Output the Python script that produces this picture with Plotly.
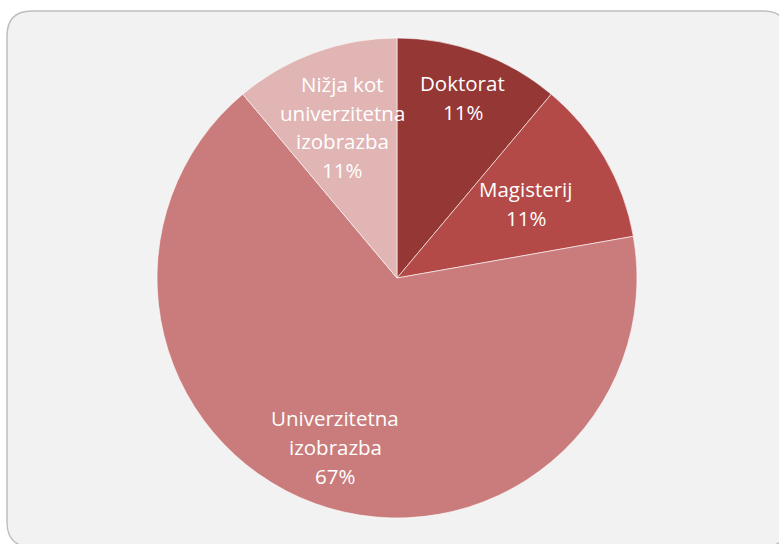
import math
import plotly.graph_objects as go

# Education level of respondents
categories = ["Doktorat", "Magisterij", "Univerzitetna izobrazba",
              "Nižja kot univerzitetna izobrazba"]
values = [1, 1, 6, 1]
label_lines = [["Doktorat"], ["Magisterij"], ["Univerzitetna", "izobrazba"],
               ["Nižja kot", "univerzitetna", "izobrazba"]]
colors = ["#953735", "#b44a48", "#c97c7b", "#e0b5b4"]
label_radius = [0.80, 0.62, 0.75, 0.67]  # label distance from centre, share of radius

W, H = 779, 544
CX, CY, R = 397, 278, 240
LINE_H = 28.7
FONT = dict(family="'Open Sans', sans-serif", size=20.5, color="white")


def px(x):
    return x / W


def py(y):
    return 1 - y / H


fig = go.Figure(go.Pie(
    labels=categories, values=values, sort=False, direction="clockwise",
    rotation=0, marker=dict(colors=colors, line=dict(color="white", width=0.6)),
    textinfo="none", hoverinfo="label+percent", showlegend=False,
    domain=dict(x=[px(CX - R), px(CX + R)], y=[py(CY + R), py(CY - R)]),
))

# Rounded chart-area frame
x0, y0, x1, y1, rr = 7, 11, 788, 547, 25
path = (f"M {px(x0 + rr)} {py(y0)} L {px(x1 - rr)} {py(y0)} "
        f"Q {px(x1)} {py(y0)} {px(x1)} {py(y0 + rr)} "
        f"L {px(x1)} {py(y1 - rr)} Q {px(x1)} {py(y1)} {px(x1 - rr)} {py(y1)} "
        f"L {px(x0 + rr)} {py(y1)} Q {px(x0)} {py(y1)} {px(x0)} {py(y1 - rr)} "
        f"L {px(x0)} {py(y0 + rr)} Q {px(x0)} {py(y0)} {px(x0 + rr)} {py(y0)} Z")
fig.add_shape(type="path", path=path, xref="paper", yref="paper",
              fillcolor="#f2f2f2", line=dict(color="#bfbfbf", width=1.5),
              layer="below")

# Data labels placed along each slice's mid-angle
total = sum(values)
start = 0.0
for v, lines, frac in zip(values, label_lines, label_radius):
    share = v / total
    mid = (start + share / 2) * 2 * math.pi
    start += share
    lx = CX + frac * R * math.sin(mid)
    ly = CY - frac * R * math.cos(mid)
    text_lines = lines + [f"{round(share * 100)}%"]
    n = len(text_lines)
    for i, t in enumerate(text_lines):
        yy = ly + (i - (n - 1) / 2) * LINE_H
        fig.add_annotation(x=px(lx), y=py(yy), xref="paper", yref="paper",
                           text=t, showarrow=False, font=FONT,
                           xanchor="center", yanchor="middle")

fig.update_layout(width=W, height=H, margin=dict(l=0, r=0, t=0, b=0),
                  paper_bgcolor="white", plot_bgcolor="white")
fig.write_html("out.html")
